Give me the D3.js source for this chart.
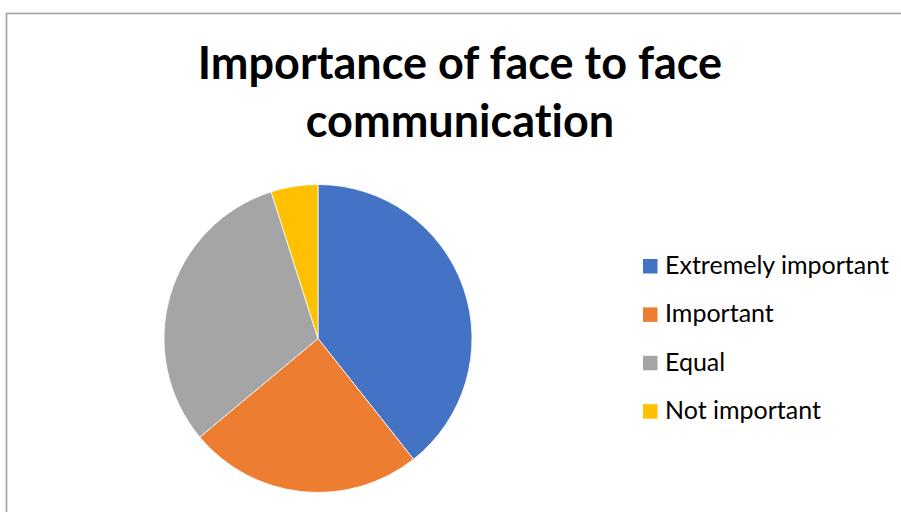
<!DOCTYPE html>
<html>
<head>
<meta charset="utf-8">
<script src="https://cdn.jsdelivr.net/npm/d3@7"></script>
<style>
  body { margin: 0; background: #fff; }
  svg { display: block; }
  text { font-variant-ligatures: none; }
</style>
</head>
<body>
<script>
// chart data
var categories = ["Extremely important", "Important", "Equal", "Not important"]
var values = [24, 15, 19, 3]
var colors = ["#4472C4", "#ED7D31", "#A5A5A5", "#FFC000"]
var titleLines = ["Importance of face to face", "communication"]

var width = 901, height = 512
var cx = 318, cy = 338.5, radius = 154

var svg = d3.select("body").append("svg")
    .attr("width", width)
    .attr("height", height)

// chart frame (runs off the right and bottom edges)
svg.append("rect")
    .attr("x", 6.5).attr("y", 13.5)
    .attr("width", width).attr("height", height)
    .attr("fill", "#fff")
    .attr("stroke", "#a0a0a0")
    .attr("stroke-width", 1.6)

var color = d3.scaleOrdinal().domain(categories).range(colors)

var pie = d3.pie().sort(null).value(d => d.value)
var arc = d3.arc().innerRadius(0).outerRadius(radius)

var data = categories.map((c, i) => ({name: c, value: values[i]}))

svg.append("g")
    .attr("transform", `translate(${cx},${cy})`)
    .selectAll("path")
    .data(pie(data))
    .join("path")
    .attr("d", arc)
    .attr("fill", d => color(d.data.name))
    .attr("stroke", "#fff")
    .attr("stroke-width", 0.8)

// title
svg.append("g")
    .attr("font-family", "Lato, 'Open Sans', sans-serif")
    .attr("font-weight", "bold")
    .attr("font-size", 45)
    .attr("text-anchor", "middle")
    .attr("fill", "#000")
    .selectAll("text")
    .data(titleLines)
    .join("text")
    .attr("x", 460)
    .attr("y", (d, i) => 79 + i * 58)
    .text(d => d)

// legend
var legend = svg.append("g")
    .attr("font-family", "Lato, 'Open Sans', sans-serif")
    .attr("font-size", 25)
    .attr("fill", "#000")
    .selectAll("g")
    .data(categories)
    .join("g")
    .attr("transform", (d, i) => `translate(643,${259 + i * 48.4})`)

legend.append("rect")
    .attr("width", 14.5).attr("height", 14.5)
    .attr("fill", d => color(d))

legend.append("text")
    .attr("x", 22)
    .attr("y", 15)
    .text(d => d)
</script>
</body>
</html>
